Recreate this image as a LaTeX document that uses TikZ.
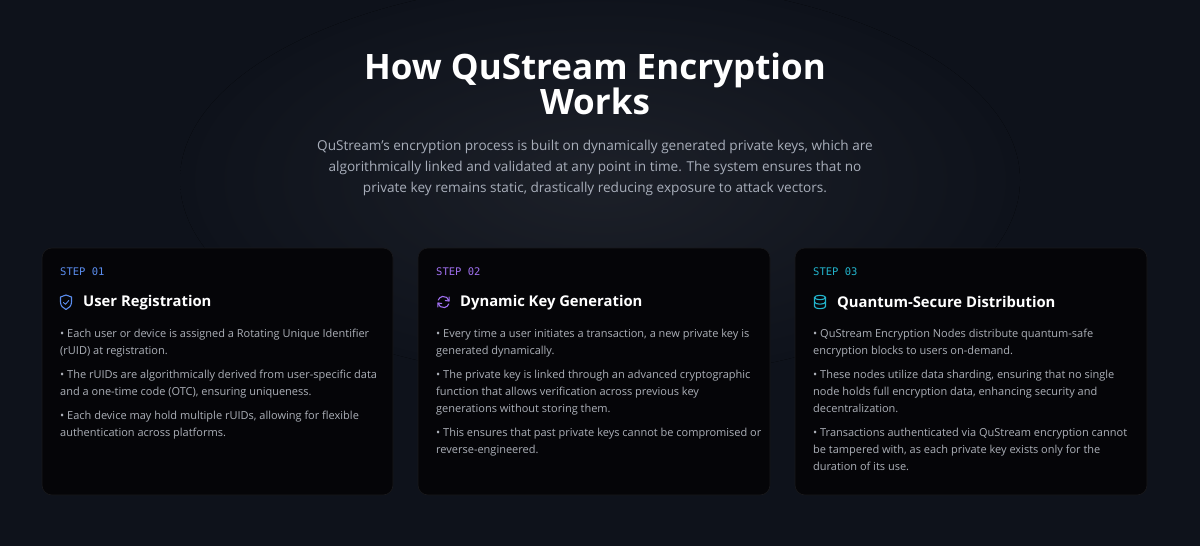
\documentclass[tikz,border=0pt]{standalone}
\usepackage{fontspec}
\usetikzlibrary{arrows.meta}
\setmainfont{Open Sans}
\newfontfamily\monof{DejaVu Sans Mono}
\definecolor{bg}{HTML}{0E121B}
\definecolor{cardbg}{HTML}{050508}
\definecolor{bodyc}{HTML}{ACB0B8}
\definecolor{subc}{HTML}{A8AEBA}
\definecolor{blu}{HTML}{5B8DEF}
\definecolor{pur}{HTML}{A070F0}
\definecolor{cya}{HTML}{22B4CC}
\tikzset{
 card/.style={fill=cardbg,rounded corners=10pt,draw=white!8!cardbg,line width=0.6pt},
 steplbl/.style={anchor=west,inner sep=0,font=\monof\fontsize{10.5}{11}\selectfont},
 ttl/.style={anchor=west,inner sep=0,text=white,font=\bfseries\fontsize{14.8}{17}\selectfont},
 bul/.style={anchor=north west,inner sep=0,text=bodyc,align=left,font=\fontsize{11}{17}\selectfont},
 icon/.style={line width=1.1pt,line cap=round,line join=round},
}
\begin{document}
\begin{tikzpicture}[x=1pt,y=-1pt]
\useasboundingbox (0,0) rectangle (1200,546);
\fill[bg] (0,0) rectangle (1200,546);
\fill[inner color=white!6!bg,outer color=bg] (600,180) ellipse (420 and 200);
\node[text=white,align=center,font=\bfseries\fontsize{35}{35}\selectfont] (title) at (595,84) {How QuStream Encryption\\[0pt]Works};
\node[text=subc,align=center,font=\fontsize{13.6}{21}\selectfont] (sub) at (595,168) {QuStream's encryption process is built on dynamically generated private keys, which are\\algorithmically linked and validated at any point in time. The system ensures that no\\private key remains static, drastically reducing exposure to attack vectors.};
% cards
\draw[card] (42,248) rectangle (393,495);
\draw[card] (418,248) rectangle (770,495);
\draw[card] (795,248) rectangle (1147,495);
% card 1
\node[steplbl,text=blu] (s1) at (60,272) {STEP 01};
\begin{scope}[shift={(66,302)},y=1pt]
\draw[blu,icon] (0,7) -- (-5.5,5) -- (-5.5,0) .. controls (-5.5,-4) and (-3,-6) .. (0,-7.5) .. controls (3,-6) and (5.5,-4) .. (5.5,0) -- (5.5,5) -- cycle;
\draw[blu,line width=0.9pt,line cap=round,line join=round] (-2.5,-0.5) -- (-0.5,-2.3) -- (2.8,1.5);
\end{scope}
\node[ttl] (t1) at (83,303) {User Registration};
\node[bul] (b1) at (60,329) {• Each user or device is assigned a Rotating Unique Identifier\\(rUID) at registration.\\[7pt]• The rUIDs are algorithmically derived from user-specific data\\and a one-time code (OTC), ensuring uniqueness.\\[7pt]• Each device may hold multiple rUIDs, allowing for flexible\\authentication across platforms.};
% card 2
\node[steplbl,text=pur] (s2) at (436,272) {STEP 02};
\begin{scope}[shift={(443.5,302)},y=1pt]
\draw[pur,icon] (5.5,1) arc (10:160:5.6);
\draw[pur,icon] (-5.5,-1) arc (190:340:5.6);
\draw[pur,icon] (5.6,5) -- (5.5,1) -- (1.8,1.5);
\draw[pur,icon] (-5.6,-5) -- (-5.5,-1) -- (-1.8,-1.5);
\end{scope}
\node[ttl] (t2) at (460,303) {Dynamic Key Generation};
\node[bul] (b2) at (436,329) {• Every time a user initiates a transaction, a new private key is\\generated dynamically.\\[7pt]• The private key is linked through an advanced cryptographic\\function that allows verification across previous key\\generations without storing them.\\[7pt]• This ensures that past private keys cannot be compromised or\\reverse-engineered.};
% card 3
\node[steplbl,text=cya] (s3) at (813,272) {STEP 03};
\begin{scope}[shift={(820,302)},y=1pt]
\draw[cya,icon] (0,4.5) ellipse (5.5 and 2.2);
\draw[cya,icon] (-5.5,4.5) -- (-5.5,-4.5) arc (180:360:5.5 and 2.2) -- (5.5,4.5);
\draw[cya,icon] (-5.5,0) arc (180:360:5.5 and 2.2);
\end{scope}
\node[ttl] (t3) at (837,303) {Quantum-Secure Distribution};
\node[bul] (b3) at (813,329) {• QuStream Encryption Nodes distribute quantum-safe\\encryption blocks to users on-demand.\\[7pt]• These nodes utilize data sharding, ensuring that no single\\node holds full encryption data, enhancing security and\\decentralization.\\[7pt]• Transactions authenticated via QuStream encryption cannot\\be tampered with, as each private key exists only for the\\duration of its use.};
\end{tikzpicture}
\end{document}
